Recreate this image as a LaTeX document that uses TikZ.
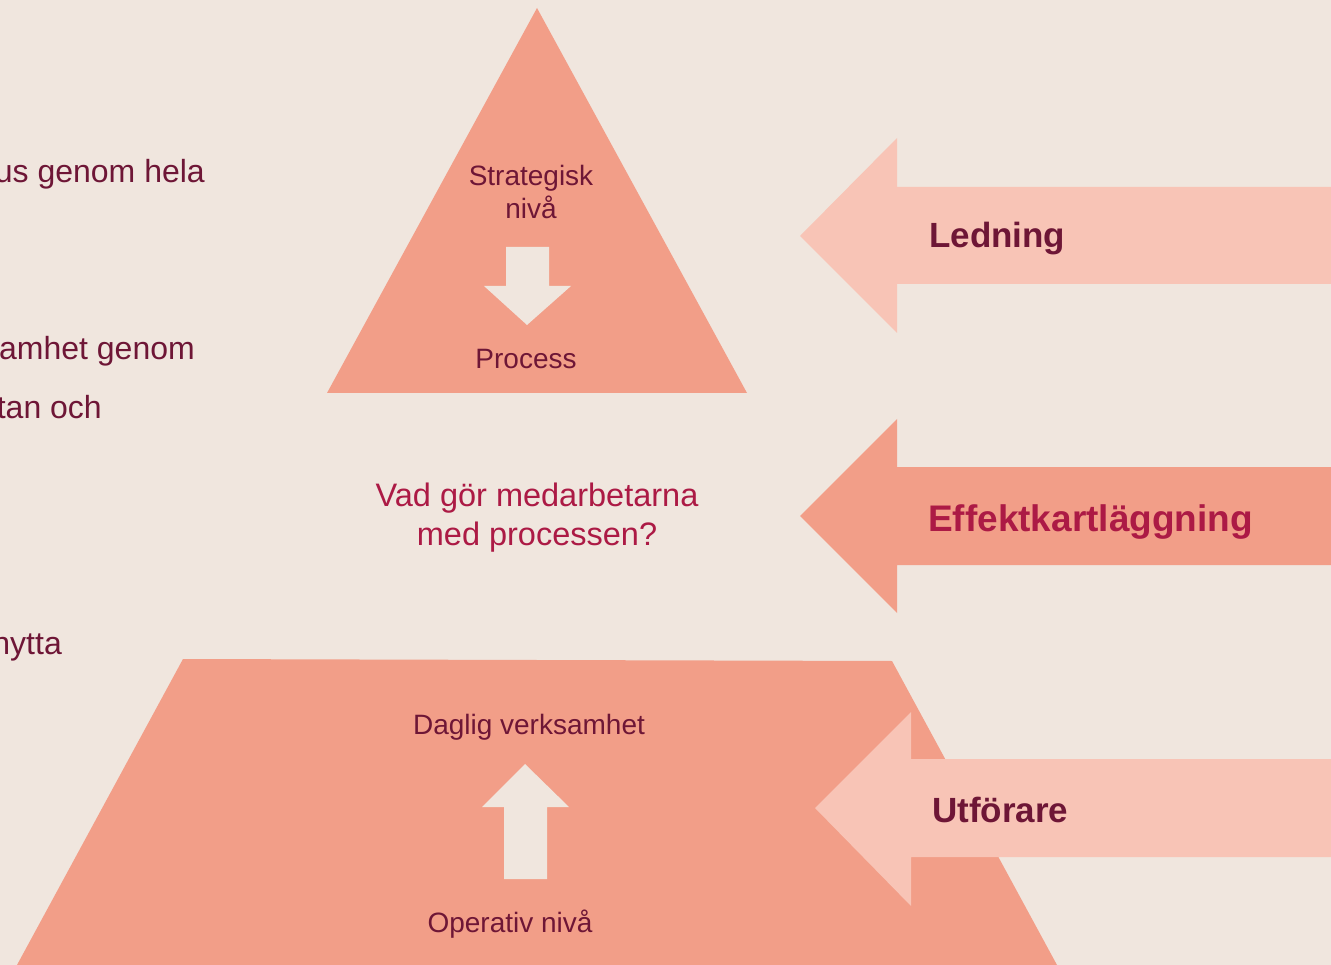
\documentclass[tikz,border=0pt]{standalone}
\usepackage{fontspec}
\setmainfont{Liberation Sans}
\definecolor{bgcol}{HTML}{F0E6DE}
\definecolor{salmon}{HTML}{F29E88}
\definecolor{lightsalmon}{HTML}{F8C4B6}
\definecolor{maroon}{HTML}{6E1636}
\definecolor{crimson}{HTML}{AC1A45}
\begin{document}
\begin{tikzpicture}[x=1pt,y=-1pt,
  shapefill/.style={fill=salmon,draw=none},
  lightfill/.style={fill=lightsalmon,draw=none},
  bgfill/.style={fill=bgcol,draw=none},
  lbl/.style={text=maroon,inner sep=0pt,anchor=base,font=\fontsize{28}{33}\selectfont},
  biglbl/.style={inner sep=0pt,anchor=base west,font=\bfseries\fontsize{#1}{#1}\selectfont},
  sidetxt/.style={text=maroon,inner sep=0pt,anchor=base east,font=\fontsize{32}{38}\selectfont},
  question/.style={text=crimson,inner sep=0pt,anchor=base,font=\fontsize{32.5}{38}\selectfont}]
\useasboundingbox (0,0) rectangle (1331,965);
\fill[bgcol] (0,0) rectangle (1331,965);

% left texts (cut off at the left edge, as in the reference)
\node[sidetxt] (l1) at (205,183) {us genom hela};
\node[sidetxt] (l2) at (195,360) {amhet genom};
\node[sidetxt] (l3) at (102,419) {tan och};
\node[sidetxt] (l4) at (62,654) {nytta};

% top triangle
\path[shapefill] (537,8) -- (747,393) -- (327,393) -- cycle;
\path[bgfill] (506,247) -- (549,247) -- (549,286) -- (571,286) -- (527,325)
  -- (484,286) -- (506,286) -- cycle;
\node[lbl] (strat) at (531,186) {Strategisk};
\node[lbl] (niva) at (531,219) {nivå};
\node[lbl] (proc) at (526,369) {Process};

% middle question
\node[question] (q1) at (537,506) {Vad gör medarbetarna};
\node[question] (q2) at (537,545) {med processen?};

% bottom trapezoid
\path[shapefill] (183,659) -- (892,661) -- (1057,965) -- (17,965) -- cycle;
\path[bgfill] (525,764) -- (569,807) -- (547,807) -- (547,879) -- (504,879)
  -- (504,807) -- (482,807) -- cycle;
\node[lbl] (dag) at (529,734) {Daglig verksamhet};
\node[lbl] (oper) at (510,932) {Operativ nivå};

% right arrows
\path[lightfill] (800,236) -- (897,138) -- (897,187) -- (1331,187) -- (1331,284)
  -- (897,284) -- (897,333) -- cycle;
\node[biglbl=35,text=maroon] (led) at (929,248) {Ledning};

\path[shapefill] (800,516) -- (897,419) -- (897,467) -- (1331,467) -- (1331,565)
  -- (897,565) -- (897,613) -- cycle;
\node[biglbl=37,text=crimson] (eff) at (928,531) {Effektkartläggning};

\path[lightfill] (815,808) -- (911,712) -- (911,759) -- (1331,759) -- (1331,857)
  -- (911,857) -- (911,906) -- cycle;
\node[biglbl=35,text=maroon] (utf) at (932,822) {Utförare};
\end{tikzpicture}
\end{document}
